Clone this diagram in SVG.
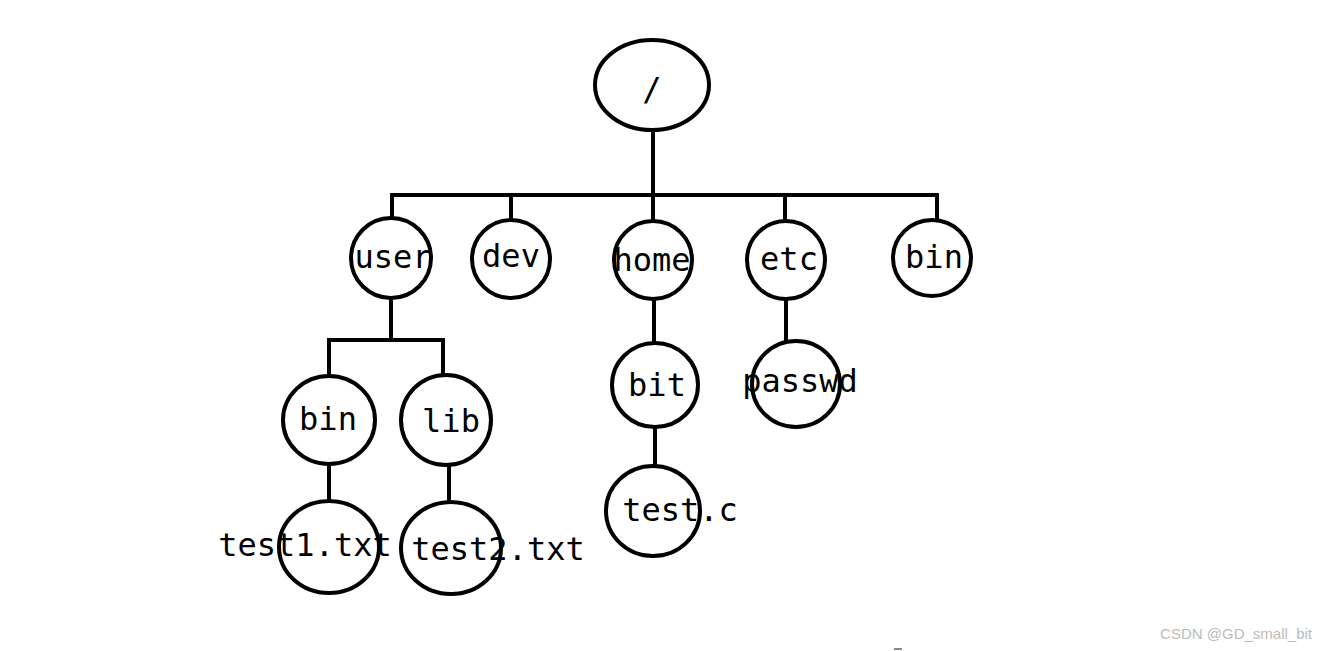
<svg xmlns="http://www.w3.org/2000/svg" width="1327" height="651" viewBox="0 0 1327 651">
<style>
.n{fill:#fff;stroke:#000;stroke-width:4}
.c line{stroke:#000;stroke-width:4}
text{font-family:"DejaVu Sans Mono","Liberation Mono",monospace;font-size:32px;text-anchor:middle;fill:#000}
.w{font-family:"Liberation Sans",Arial,sans-serif;font-size:15px;fill:#bbb;text-anchor:end}
</style>
<rect width="1327" height="651" fill="#fff"/>
<g class="c">
<line x1="653" y1="130" x2="653" y2="195"/>
<line x1="390" y1="195" x2="939" y2="195"/>
<line x1="392" y1="193" x2="392" y2="220"/>
<line x1="511" y1="193" x2="511" y2="220"/>
<line x1="653" y1="193" x2="653" y2="221"/>
<line x1="785" y1="193" x2="785" y2="221"/>
<line x1="937" y1="193" x2="937" y2="220"/>
<line x1="391" y1="298" x2="391" y2="340"/>
<line x1="327" y1="340" x2="445" y2="340"/>
<line x1="329" y1="338" x2="329" y2="376"/>
<line x1="443" y1="338" x2="443" y2="376"/>
<line x1="329" y1="464" x2="329" y2="500"/>
<line x1="449" y1="465" x2="449" y2="501"/>
<line x1="654" y1="299" x2="654" y2="343"/>
<line x1="655" y1="426" x2="655" y2="467"/>
<line x1="786" y1="299" x2="786" y2="342"/>
</g>
<g id="root"><ellipse class="n" cx="652" cy="85" rx="57" ry="45"/><text x="652" y="100">/</text></g>
<g id="user"><ellipse class="n" cx="391" cy="258" rx="40" ry="40"/><text x="393" y="268">user</text></g>
<g id="dev"><ellipse class="n" cx="511" cy="259" rx="39" ry="39"/><text x="511" y="267">dev</text></g>
<g id="home"><ellipse class="n" cx="653" cy="260" rx="39" ry="39"/><text x="652" y="271">home</text></g>
<g id="etc"><ellipse class="n" cx="786" cy="260" rx="39" ry="39"/><text x="789" y="270">etc</text></g>
<g id="bin"><ellipse class="n" cx="932" cy="258" rx="39" ry="38"/><text x="934" y="268">bin</text></g>
<g id="ubin"><ellipse class="n" cx="329" cy="420" rx="46" ry="44"/><text x="328" y="430">bin</text></g>
<g id="lib"><ellipse class="n" cx="446" cy="420" rx="45" ry="45"/><text x="451" y="432">lib</text></g>
<g id="bit"><ellipse class="n" cx="655" cy="385" rx="43" ry="42"/><text x="657" y="396">bit</text></g>
<g id="passwd"><ellipse class="n" cx="796" cy="384" rx="44" ry="43"/><text x="800" y="392">passwd</text></g>
<g id="test1"><ellipse class="n" cx="329" cy="547" rx="50" ry="46"/><text x="305" y="556">test1.txt</text></g>
<g id="test2"><ellipse class="n" cx="451" cy="548" rx="50" ry="46"/><text x="498" y="560">test2.txt</text></g>
<g id="testc"><ellipse class="n" cx="653" cy="511" rx="47" ry="45"/><text x="680" y="521">test.c</text></g>
<rect x="894" y="648" width="8" height="2" fill="#888"/>
<text class="w" x="1312" y="639">CSDN @GD_small_bit</text>
</svg>
